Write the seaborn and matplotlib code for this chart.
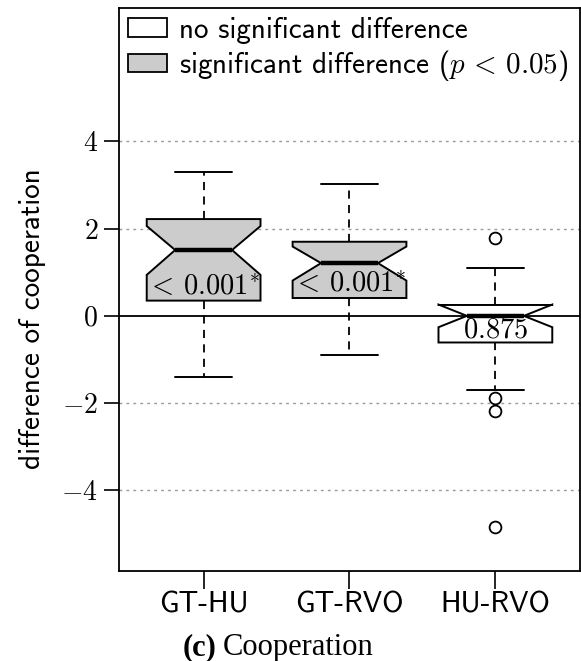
import matplotlib
matplotlib.use("Agg")
import matplotlib.pyplot as plt
from matplotlib.patches import Patch
import seaborn as sns

# Paired differences of cooperation: summary statistics per comparison
categories = ["GT-HU", "GT-RVO", "HU-RVO"]
q1 = [0.35, 0.41, -0.61]
median = [1.51, 1.21, 0.00]
q3 = [2.22, 1.70, 0.25]
whisker_low = [-1.40, -0.89, -1.71]
whisker_high = [3.31, 3.02, 1.09]
notch_low = [0.94, 0.81, -0.26]
notch_high = [2.06, 1.59, 0.26]
outliers = [[], [], [1.78, -1.89, -2.17, -4.83]]
significant = [True, True, False]
p_labels = [r"$<\,0.001^{*}$", r"$<\,0.001^{*}$", r"$0.875$"]
y_ticks = [-4, -2, 0, 2, 4]

sns.set_theme(style="ticks", rc={"text.color": "black", "axes.labelcolor": "black",
                                 "xtick.color": "black", "ytick.color": "black"})
plt.rcParams["mathtext.fontset"] = "cm"
plt.rcParams["font.family"] = ["cmss10", "DejaVu Sans"]
plt.rcParams["axes.unicode_minus"] = False

fig = plt.figure(figsize=(5.81, 6.61), dpi=100)
ax = fig.add_axes([119 / 581, 1 - 571 / 661, (580 - 119) / 581, (571 - 8) / 661])

positions = [1, 2, 3]
stats = []
for i, name in enumerate(categories):
    stats.append(dict(label=name, q1=q1[i], med=median[i], q3=q3[i],
                      whislo=whisker_low[i], whishi=whisker_high[i],
                      cilo=notch_low[i], cihi=notch_high[i],
                      fliers=outliers[i]))

grey = "#cccccc"
res = ax.bxp(stats, positions=positions, widths=0.78, shownotches=True,
             patch_artist=True, showfliers=True,
             boxprops=dict(edgecolor="black", linewidth=1.4),
             medianprops=dict(color="black", linewidth=3.2, solid_capstyle="butt"),
             whiskerprops=dict(color="black", linewidth=1.3, linestyle=(0, (4.5, 3.5))),
             capprops=dict(color="black", linewidth=1.4),
             flierprops=dict(marker="o", markerfacecolor="white",
                             markeredgecolor="black", markersize=8.5,
                             markeredgewidth=1.3))
for patch, sig in zip(res["boxes"], significant):
    patch.set_facecolor(grey if sig else "white")
    patch.set_zorder(3)
for line in res["medians"]:
    line.set_zorder(4)

# p-values written inside each box, just above the lower hinge
for pos, lo, lab in zip(positions, q1, p_labels):
    ax.annotate(lab, xy=(pos, lo), xytext=(0, 3.5), textcoords="offset points",
                ha="center", va="baseline", fontsize=20.5, color="black", zorder=5)

ax.axhline(0, color="black", linewidth=1.3, zorder=1)
for t in y_ticks:
    if t != 0:
        ax.axhline(t, color="#999999", linewidth=1.0, linestyle=(0, (2, 3)), zorder=0)

ax.set_xlim(0.42, 3.58)
ax.set_ylim(-5.85, 7.06)
ax.set_yticks(y_ticks)
ax.set_yticklabels([rf"${t}$" if t >= 0 else rf"$-{abs(t)}$" for t in y_ticks], fontsize=20)
ax.set_xticks(positions)
ax.set_xticklabels(categories, fontsize=21)
ax.tick_params(axis="both", direction="out", length=11, width=1.2, color="black",
               labelcolor="black")
ax.tick_params(axis="x", length=13, pad=2)
ax.tick_params(axis="y", pad=4)
for sp in ax.spines.values():
    sp.set_color("black")
    sp.set_linewidth(1.3)
ax.set_ylabel("difference of cooperation", fontsize=21, color="black")
ax.yaxis.set_label_coords(-0.158, 0.448)

handles = [Patch(facecolor="white", edgecolor="black", linewidth=1.3),
           Patch(facecolor=grey, edgecolor="black", linewidth=1.3)]
labels = ["no significant difference", r"significant difference ($p\,<\,0.05$)"]
ax.legend(handles, labels, loc="upper left", frameon=False, fontsize=21,
          handlelength=1.34, handleheight=0.58, handletextpad=0.41,
          labelspacing=0.15, borderaxespad=0.1, borderpad=0.2)

fig.text(216 / 581, 1 - 648 / 661, "(c)", fontfamily="Liberation Serif",
         fontweight="bold", fontsize=22, ha="right", va="center", color="black")
fig.text(223 / 581, 1 - 648 / 661, "Cooperation", fontfamily="Liberation Serif",
         fontsize=22, ha="left", va="center", color="black")

fig.savefig("out.png", dpi=100)
